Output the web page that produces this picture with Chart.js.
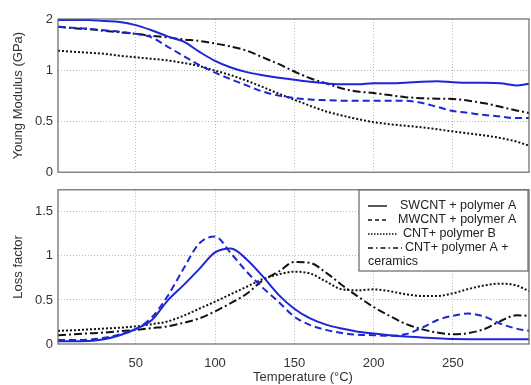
<!DOCTYPE html>
<html><head><meta charset="utf-8">
<script src="https://cdn.jsdelivr.net/npm/chart.js@4/dist/chart.umd.min.js"></script>
<style>
html,body{margin:0;padding:0;background:#fff;}
#wrap{position:relative;width:531px;height:385px;overflow:hidden;background:#fff;}
#c1{position:absolute;left:0;top:0;}
#c2{position:absolute;left:0;top:177px;}
</style></head><body>
<div id="wrap"><canvas id="c1" width="531" height="185"></canvas><canvas id="c2" width="531" height="208"></canvas></div>
<script>
// ---- data ----
const temperatures = [1,10,20,30,40,50,60,70,80,90,100,110,120,130,140,150,160,170,180,190,200,210,220,230,240,250,260,270,280,290,298];
const seriesNames = ['SWCNT + polymer A','MWCNT + polymer A','CNT+ polymer B','CNT+ polymer A +\nceramics'];
const xTickValues = [50,100,150,200,250];
const modulusTicks = [0,0.5,1,1.5];
const modulusTickLabels = ['0','0.5','1','2'];
const lossTicks = [0,0.5,1,1.5];
const lossTickLabels = ['0','0.5','1','1.5'];

// Young modulus (GPa)
const modulusSWCNT = [1.49,1.49,1.49,1.48,1.47,1.44,1.39,1.33,1.28,1.18,1.09,1.025,0.98,0.95,0.925,0.905,0.885,0.87,0.86,0.86,0.87,0.87,0.875,0.885,0.89,0.88,0.875,0.875,0.87,0.85,0.865];
const modulusMWCNT = [1.425,1.415,1.405,1.39,1.375,1.355,1.32,1.23,1.14,1.05,0.975,0.91,0.85,0.79,0.75,0.727,0.712,0.705,0.70,0.70,0.70,0.70,0.70,0.68,0.64,0.60,0.58,0.56,0.545,0.53,0.53];
const modulusCNTB = [1.19,1.18,1.17,1.16,1.14,1.125,1.11,1.095,1.07,1.04,0.995,0.95,0.895,0.835,0.77,0.71,0.65,0.595,0.555,0.52,0.49,0.47,0.455,0.44,0.42,0.40,0.38,0.36,0.335,0.30,0.26];
const modulusCNTACer = [1.425,1.41,1.40,1.385,1.37,1.355,1.335,1.32,1.30,1.285,1.26,1.23,1.19,1.125,1.06,0.986,0.92,0.87,0.82,0.79,0.775,0.755,0.735,0.725,0.72,0.717,0.70,0.675,0.64,0.605,0.58];

// Loss factor
const lossSWCNT = [0.03,0.03,0.035,0.055,0.10,0.17,0.27,0.49,0.665,0.85,1.04,1.085,0.96,0.77,0.56,0.40,0.29,0.22,0.175,0.14,0.12,0.10,0.085,0.075,0.065,0.056,0.055,0.055,0.055,0.055,0.055];
const lossMWCNT = [0.045,0.045,0.05,0.07,0.11,0.17,0.30,0.54,0.85,1.14,1.22,1.03,0.82,0.64,0.48,0.31,0.215,0.16,0.125,0.105,0.10,0.093,0.11,0.18,0.27,0.32,0.345,0.31,0.23,0.175,0.15];
const lossCNTB = [0.15,0.155,0.165,0.175,0.185,0.20,0.225,0.255,0.32,0.40,0.48,0.565,0.65,0.735,0.79,0.82,0.80,0.71,0.62,0.61,0.62,0.60,0.565,0.545,0.545,0.575,0.625,0.665,0.685,0.665,0.60];
const lossCNTACer = [0.10,0.11,0.12,0.13,0.145,0.16,0.18,0.20,0.24,0.29,0.37,0.465,0.57,0.72,0.82,0.93,0.92,0.81,0.67,0.54,0.42,0.32,0.23,0.17,0.13,0.11,0.125,0.17,0.26,0.325,0.32];

// ---- styles ----
const BLUE = '#1d26d4', BLACK = '#111';
const styles = [
  {color: BLUE, dash: [], legendDash: []},
  {color: BLUE, dash: [7,4], legendDash: [4,3]},
  {color: BLACK, dash: [2,2], legendDash: [1.5,1.5]},
  {color: BLACK, dash: [8,3,2,3], legendDash: [5,3,1.5,3]}
];
const FONT = "'Liberation Sans', Arial, sans-serif";
const TXT = '#333';

function mkDatasets(arrs){
  return arrs.map((vals,i)=>({
    label: seriesNames[i],
    data: temperatures.map((t,j)=>({x:t,y:vals[j]})),
    borderColor: styles[i].color,
    borderDash: styles[i].dash,
    borderWidth: 2,
    pointRadius: 0,
    fill: false,
    cubicInterpolationMode: 'monotone'
  }));
}

const boxPlugin = {
  id: 'box',
  afterDatasetsDraw(chart){
    const {ctx, chartArea: a} = chart;
    ctx.save();
    ctx.strokeStyle = '#666';
    ctx.lineWidth = 1.2;
    ctx.setLineDash([]);
    ctx.strokeRect(a.left, a.top, a.right - a.left, a.bottom - a.top);
    ctx.restore();
  }
};

const gridColor = (ctx) => {
  const s = ctx.scale;
  if (ctx.tick && (ctx.tick.value <= s.min + 1e-9 || ctx.tick.value >= s.max - 1e-9)) return 'rgba(0,0,0,0)';
  return '#b8b8b8';
};

function xScale(showLabels){
  return {
    type: 'linear', min: 1, max: 298,
    afterBuildTicks: s => { s.ticks = xTickValues.map(v=>({value:v})); },
    grid: {color: gridColor, drawTicks: false, lineWidth: 1},
    border: {display: false, dash: [1,2]},
    ticks: {display: showLabels, padding: 12, color: TXT, font: {family: FONT, size: 13}, maxRotation: 0},
    afterFit: s => { s.height = showLabels ? 41 : 0; }
  };
}
function yScale(min, max, tickVals, tickLabels, title){
  return {
    min, max,
    afterBuildTicks: s => { s.ticks = tickVals.map(v=>({value:v})); },
    grid: {color: gridColor, drawTicks: false, lineWidth: 1},
    border: {display: false, dash: [1,2]},
    ticks: {padding: 5, color: TXT, font: {family: FONT, size: 13},
      callback: (v) => { const k = tickVals.indexOf(v); return k >= 0 ? tickLabels[k] : ''; }},
    title: {display: true, text: title, color: TXT, font: {family: FONT, size: 13}, padding: {top: 11, bottom: 0}},
    afterFit: s => { s.width = 58; }
  };
}

const commonOpts = {
  responsive: false, animation: false,
  plugins: {legend: {display: false}, tooltip: {enabled: false}},
};

new Chart(document.getElementById('c1'), {
  type: 'line',
  data: {datasets: mkDatasets([modulusSWCNT, modulusMWCNT, modulusCNTB, modulusCNTACer])},
  options: Object.assign({}, commonOpts, {
    layout: {padding: {top: 19, bottom: 12, left: 0, right: 2}},
    scales: {
      x: xScale(false),
      y: yScale(0, 1.5, modulusTicks, modulusTickLabels, 'Young Modulus (GPa)')
    }
  }),
  plugins: [boxPlugin]
});

const legendPlugin = {
  id: 'customLegend',
  afterDraw(chart){
    const ctx = chart.ctx;
    const L = {x: 359, y: 13, w: 169, h: 81, rows: [29, 43, 57, 71, 85],
      sampleStart: 368, sampleEnd: [387, 388, 397, 402], textX: [400, 398, 403, 405]};
    ctx.save();
    ctx.fillStyle = '#fff';
    ctx.fillRect(L.x, L.y, L.w, L.h);
    ctx.strokeStyle = '#666';
    ctx.lineWidth = 1.2;
    ctx.setLineDash([]);
    ctx.strokeRect(L.x, L.y, L.w, L.h);
    ctx.font = '12.5px ' + FONT;
    ctx.fillStyle = '#222';
    ctx.textBaseline = 'middle';
    let row = 0;
    seriesNames.forEach((name, i) => {
      const y = L.rows[row];
      ctx.beginPath();
      ctx.strokeStyle = '#111';
      ctx.lineWidth = 1.4;
      ctx.setLineDash(styles[i].legendDash);
      ctx.moveTo(L.sampleStart, y);
      ctx.lineTo(L.sampleEnd[i], y);
      ctx.stroke();
      ctx.setLineDash([]);
      const lines = name.split('\n');
      ctx.fillText(lines[0], L.textX[i], y);
      row++;
      for (let k = 1; k < lines.length; k++) {
        ctx.fillText(lines[k], L.sampleStart, L.rows[row]);
        row++;
      }
    });
    // x-axis label
    ctx.font = '13px ' + FONT;
    ctx.fillStyle = TXT;
    ctx.textAlign = 'center';
    ctx.fillText('Temperature (\u00B0C)', 303, 200);
    ctx.restore();
  }
};

new Chart(document.getElementById('c2'), {
  type: 'line',
  data: {datasets: mkDatasets([lossSWCNT, lossMWCNT, lossCNTB, lossCNTACer])},
  options: Object.assign({}, commonOpts, {
    layout: {padding: {top: 4, bottom: 0, left: 0, right: 2}},
    scales: {
      x: xScale(true),
      y: yScale(0, 1.75, lossTicks, lossTickLabels, 'Loss factor')
    }
  }),
  plugins: [boxPlugin, legendPlugin]
});
</script>
</body></html>
